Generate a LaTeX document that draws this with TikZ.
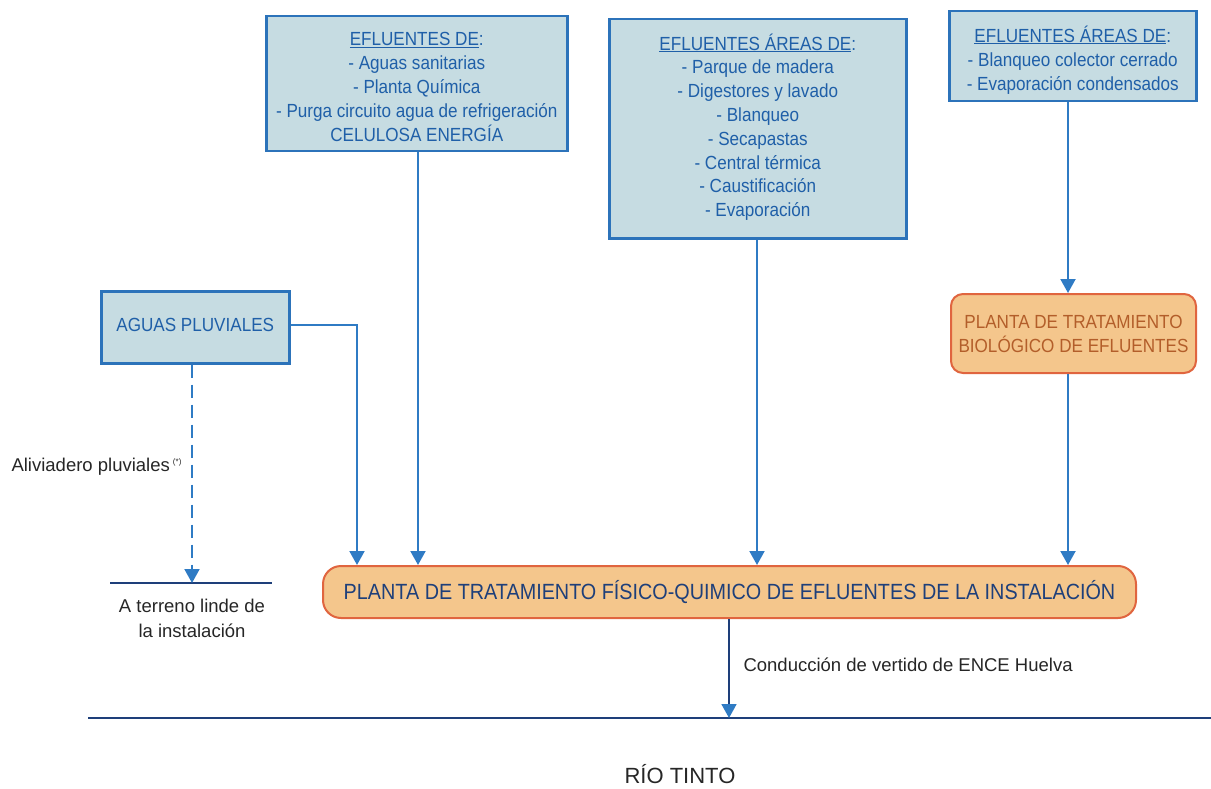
\documentclass[tikz,border=0pt]{standalone}
\usepackage{fontspec}
\setmainfont[FakeStretch=0.9]{Liberation Sans}
\newfontfamily\lblfont{Liberation Sans}
\usetikzlibrary{arrows.meta}
\definecolor{boxfill}{HTML}{C6DCE2}
\definecolor{boxline}{HTML}{2C73BA}
\definecolor{txtblue}{HTML}{1F5FA8}
\definecolor{orfill}{HTML}{F4C68C}
\definecolor{orline}{HTML}{E0653F}
\definecolor{ortxt}{HTML}{B35E2A}
\definecolor{arrowc}{HTML}{2F7BC4}
\definecolor{darkline}{HTML}{1E3F7A}
\tikzset{
  bluebox/.style={draw=boxline, line width=2.5pt, fill=boxfill, text=txtblue, align=center, inner sep=0pt},
  boxtxt/.style={text=txtblue, align=center, font=\fontsize{19}{24}\selectfont},
  orbox/.style={draw=orline, line width=2pt, fill=orfill, rounded corners=12pt, align=center, inner sep=0pt},
  flow/.style={draw=arrowc, line width=2pt, -{Triangle[width=15pt,length=14pt]}},
  lbl/.style={font=\lblfont\fontsize{18.5}{25}\selectfont, text=black!85},
}
\begin{document}
\begin{tikzpicture}[x=1pt,y=-1pt]
\useasboundingbox (0,0) rectangle (1211,789);
% boxes
\node[bluebox, minimum width=301pt, minimum height=135pt, anchor=north west] (b1) at (265,15) {};
\node[boxtxt, anchor=north] (t1) at (b1.north) [yshift=-14pt] {\underline{EFLUENTES DE}:\\- Aguas sanitarias\\- Planta Química\\- Purga circuito agua de refrigeración\\CELULOSA ENERGÍA};
\node[bluebox, minimum width=297pt, minimum height=219pt, anchor=north west] (b2) at (608,18) {};
\node[boxtxt, font=\fontsize{19}{23.8}\selectfont, anchor=north] (t2) at (b2.north) [yshift=-12pt] {\underline{EFLUENTES ÁREAS DE}:\\- Parque de madera\\- Digestores y lavado\\- Blanqueo\\- Secapastas\\- Central térmica\\- Caustificación\\- Evaporación};
\node[bluebox, minimum width=247pt, minimum height=90pt, anchor=north west] (b3) at (948,10) {};
\node[boxtxt, anchor=north] (t3) at (b3.north) [yshift=-12pt] {\underline{EFLUENTES ÁREAS DE}:\\- Blanqueo colector cerrado\\- Evaporación condensados};
\node[bluebox, minimum width=188pt, minimum height=72pt, anchor=north west] (bp) at (100,290) {};
\node[boxtxt] (tp) at (bp.center) [yshift=2pt] {AGUAS PLUVIALES};
\node[orbox, minimum width=245pt, minimum height=79pt, anchor=north west, text=ortxt, font=\fontsize{19}{24}\selectfont] (bio) at (950,293) {PLANTA DE TRATAMIENTO\\BIOLÓGICO DE EFLUENTES};
\node[orbox, minimum width=813pt, minimum height=52pt, anchor=north west, text=darkline, font=\fontsize{22}{24}\selectfont, rounded corners=18pt] (main) at (322,565) {PLANTA DE TRATAMIENTO FÍSICO-QUIMICO DE EFLUENTES DE LA INSTALACIÓN};
% lines
\coordinate (gl) at (110,583);
\coordinate (gr) at (272,583);
\draw[darkline, line width=1.5pt] (gl) -- (gr);
\coordinate (rl) at (88,718);
\coordinate (rr) at (1211,718);
\draw[darkline, line width=1.5pt] (rl) -- (rr);
% arrows
\draw[flow] (b1.south -| 418,0) -- (main.north -| 418,0);
\draw[flow] (b2.south -| 757,0) -- (main.north -| 757,0);
\draw[flow] (b3.south -| 1068,0) -- (bio.north -| 1068,0);
\draw[flow] (bio.south -| 1068,0) -- (main.north -| 1068,0);
\draw[flow] (bp.east |- 0,325) -- (357,325) -- (main.north -| 357,0);
\draw[flow, dash pattern=on 13pt off 7pt] (bp.south -| 192,0) -- (192,583);
\draw[draw=darkline, line width=1.8pt, -{Triangle[width=15pt,length=14pt,color=arrowc]}] (main.south -| 729,0) -- (729,718);
% labels
\node[lbl, anchor=west] (ali) at (8,467) {Aliviadero pluviales\,\raisebox{7pt}{\fontsize{8}{8}\selectfont (*)}};
\node[lbl, align=center] (ter) at (192,618) {A terreno linde de\\la instalación};
\node[lbl, anchor=west] (con) at (740,665) {Conducción de vertido de ENCE Huelva};
\node[font=\lblfont\fontsize{22}{24}\selectfont, text=black!85, inner sep=1pt] (rio) at (680,774) {RÍO TINTO};
\end{tikzpicture}
\end{document}
